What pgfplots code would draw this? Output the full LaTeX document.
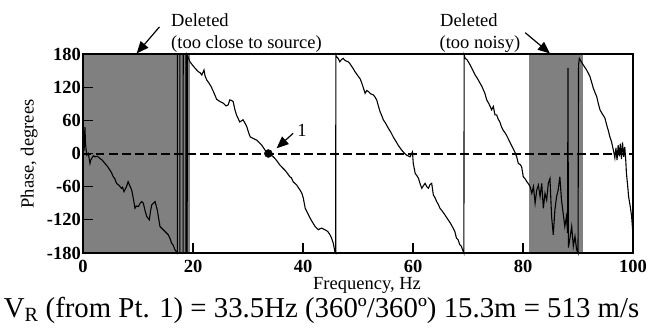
\documentclass[border=0pt]{standalone}
\usepackage{fontspec}
\setmainfont{Liberation Serif}
\usepackage{pgfplots}
\pgfplotsset{compat=1.18}
\usetikzlibrary{arrows.meta}
\definecolor{delgray}{RGB}{128,128,128}
\newcommand{\fs}{\fontsize{18.5}{21}\selectfont}
\begin{document}
\begin{tikzpicture}
\useasboundingbox (-83pt,-80pt) rectangle (572pt,253pt);
\begin{axis}[
  at={(0,0)}, anchor=south west,
  scale only axis, width=550pt, height=199pt,
  xmin=0, xmax=100, ymin=-180, ymax=180,
  axis on top, clip=false,
  xtick={0,20,...,100}, ytick={-180,-120,...,180},
  tick pos=left, tick align=inside, major tick length=10pt,
  axis line style={line width=1.4pt},
  every tick/.style={line width=1.2pt, black},
  ticklabel style={font=\fs\bfseries},
  /pgf/number format/assume math mode=true,
  yticklabel style={inner sep=0pt, xshift=-2pt},
  xticklabel style={inner sep=0pt, yshift=-7pt},
  xlabel={Frequency, Hz},
  xlabel style={at={(axis description cs:0.5164,-0.1809)}, anchor=base, font=\fs, inner sep=0pt},
  ylabel={Phase, degrees},
  ylabel style={at={(axis description cs:-0.09,0.4975)}, anchor=base, font=\fs, inner sep=0pt},
]
% deleted regions
\addplot[fill=delgray, draw=none] coordinates {(0,-180) (19.4,-180) (19.4,180) (0,180)} -- cycle;
\addplot[fill=delgray, draw=none] coordinates {(81.15,-180) (90.85,-180) (90.85,180) (81.15,180)} -- cycle;
% zero line
\addplot[black, line width=2pt, dash pattern=on 8.5pt off 4.5pt] coordinates {(0,0) (100,0)};
% phase curve
\addplot[black, line width=1.1pt, sharp plot, mark=none] coordinates {
(0.2,5) (0.35,48) (0.45,20) (0.55,8) (0.7,-3) (0.97,0) (1.1,-8) (1.27,-18) (1.4,-12) (1.58,-9) (1.9,-4) (2.18,-6) (2.6,-5) (3.1,-9) (3.5,-12) (4.0,-18) (4.5,-24) (4.9,-30) (5.2,-35) (5.5,-42) (5.8,-46) (6.1,-54) (6.5,-57) (7.0,-63) (7.2,-61) (7.45,-69) (7.9,-60) (8.2,-51) (8.5,-58) (8.85,-66) (9.2,-84) (9.45,-99) (9.7,-95) (10.06,-96) (10.4,-90) (10.67,-87) (10.97,-90) (11.3,-104) (11.6,-114) (12.06,-120) (12.3,-103) (12.5,-93) (13.1,-87) (13.5,-102) (13.8,-120) (14.0,-132) (14.4,-136) (14.9,-141) (15.5,-147) (15.8,-153) (16.1,-162) (16.4,-166) (16.7,-174) (17.0,-178)
(17.15,-180) (17.16,180) (17.6,180) (17.62,-180) (18.2,-180) (18.22,180) (18.7,180) (18.72,-180) (18.94,-180)
(18.96,178) (19.2,172) (19.45,166) (19.9,160) (20.4,154) (20.97,148) (21.3,146) (21.6,142) (22.0,151) (22.2,140) (22.5,133) (23.0,126) (23.3,121) (23.8,110) (24.3,98) (24.6,96) (24.9,94) (25.5,91) (26.0,86) (26.4,88) (26.7,97) (27.0,96) (27.3,94) (27.6,80) (27.9,70) (28.5,57) (29.1,61) (29.5,54) (29.8,48) (30.1,38) (30.4,30) (31.0,27) (31.6,24) (32.0,20) (32.5,15) (33.1,6) (33.7,0) (34.0,-1) (34.5,-5) (34.9,-9) (35.3,-14) (35.8,-21) (36.2,-25) (36.7,-30) (37.1,-35) (37.6,-42) (37.9,-44) (38.2,-51) (38.85,-57) (39.45,-66) (39.8,-72) (40.06,-81) (40.4,-99) (40.7,-105) (41.3,-117) (41.7,-124) (42.2,-132) (42.8,-138) (43.1,-136) (43.4,-135) (44.0,-138) (44.5,-141) (44.9,-147) (45.2,-153) (45.5,-162) (45.8,-178) (45.95,-180)
(45.97,178) (46.1,175) (46.4,172) (46.7,166) (47.0,170) (47.3,172) (47.7,168) (48.2,166) (48.5,163) (49.1,154) (49.45,148) (50.1,139) (50.4,135) (50.7,127) (51.0,118) (51.3,109) (51.6,114) (51.9,112) (52.3,108) (52.8,106) (53.1,102) (53.4,97) (53.7,86) (54.0,76) (54.3,69) (54.6,61) (55.0,55) (55.5,46) (56.0,38) (56.4,30) (56.9,22) (57.3,15) (57.95,6) (58.5,0) (58.85,-3) (59.45,-6) (59.9,3) (60.05,-18) (60.4,-36) (60.7,-40) (61.0,-45) (61.3,-55) (61.6,-63) (61.9,-58) (62.2,-54) (62.5,-60) (62.8,-63) (63.1,-56) (63.4,-54) (63.7,-75) (64.0,-80) (64.3,-87) (64.6,-92) (64.9,-99) (65.3,-104) (65.8,-111) (66.4,-120) (66.8,-126) (67.3,-135) (67.6,-141) (67.9,-153) (68.2,-156) (68.5,-165) (68.8,-168) (69.0,-174) (69.25,-180)
(69.3,178) (69.5,172) (69.8,170) (70.05,166) (70.4,160) (70.8,152) (71.3,142) (71.7,136) (72.2,127) (72.5,122) (72.8,115) (73.1,108) (73.4,97) (73.8,90) (74.3,79) (74.6,85) (74.9,70) (75.2,70) (75.5,62) (75.8,57) (76.1,48) (76.4,42) (76.7,38) (77.0,33) (77.3,27) (77.6,21) (77.9,15) (78.2,9) (78.5,3) (78.85,-6) (79.15,-18) (79.5,-20) (79.75,-24) (80.05,-42) (80.4,-46) (80.7,-51) (81.0,-55) (81.3,-60) (81.6,-72) (81.9,-60) (82.2,-90) (82.5,-66) (82.8,-57) (83.1,-78) (83.4,-54) (83.7,-99) (84.0,-72) (84.3,-84) (84.6,-54) (84.9,-45) (85.2,-114) (85.5,-147) (85.8,-102) (86.1,-78) (86.4,-66) (86.7,-42) (87.0,-84) (87.3,-108) (87.6,-132) (87.9,-114) (88.1,-144) (88.18,155) (88.25,-170) (88.5,-156) (88.85,-132) (89.15,-168) (89.45,-150) (89.75,-174) (90.0,-180)
(90.1,160) (90.24,172) (90.6,166) (90.97,160) (91.3,155) (91.57,151) (92.18,139) (92.5,128) (92.79,118) (93.1,110) (93.4,103) (93.7,90) (94.0,79) (94.4,72) (94.9,64) (95.2,52) (95.5,42) (95.8,30) (96.1,21) (96.5,3) (96.7,-8) (96.9,10) (97.1,-12) (97.3,15) (97.5,-5) (97.7,18) (97.9,-10) (98.1,20) (98.3,-6) (98.5,12) (98.7,-15) (98.8,-35) (99.0,-55) (99.2,-78) (99.5,-96) (99.75,-114) (99.95,-141)
};
% point 1
\addplot[only marks, mark=*, mark size=4pt, black] coordinates {(33.7,0)};
% annotations
\node[anchor=base west, font=\fs, inner sep=0pt] at (axis cs:16.0,230.6) {Deleted};
\node[anchor=base west, font=\fs, inner sep=0pt] at (axis cs:16.0,190.3) {(too close to source)};
\node[anchor=base west, font=\fs, inner sep=0pt] at (axis cs:64.9,230.6) {Deleted};
\node[anchor=base west, font=\fs, inner sep=0pt] at (axis cs:64.8,190.3) {(too noisy)};
\draw[line width=1.2pt, -{Triangle[length=12pt,width=10pt]}] (axis cs:13.9,229) -- (axis cs:9.76,181);
\draw[line width=1.2pt, -{Triangle[length=12pt,width=10pt]}] (axis cs:80.4,218.6) -- (axis cs:84.9,181);
\draw[line width=1.2pt, -{Triangle[length=12pt,width=10pt]}] (axis cs:38.2,36.5) -- (axis cs:35.2,9.4);
\node[font=\fs, inner sep=0pt] at (axis cs:39.8,41) {1};
\end{axis}
\node[anchor=base, font=\fontsize{28.8}{31}\selectfont, inner sep=0pt] at (238.5pt,-64pt) {V\textsubscript{R} (from Pt. 1) = 33.5Hz (360º/360º) 15.3m = 513 m/s};
\end{tikzpicture}
\end{document}
